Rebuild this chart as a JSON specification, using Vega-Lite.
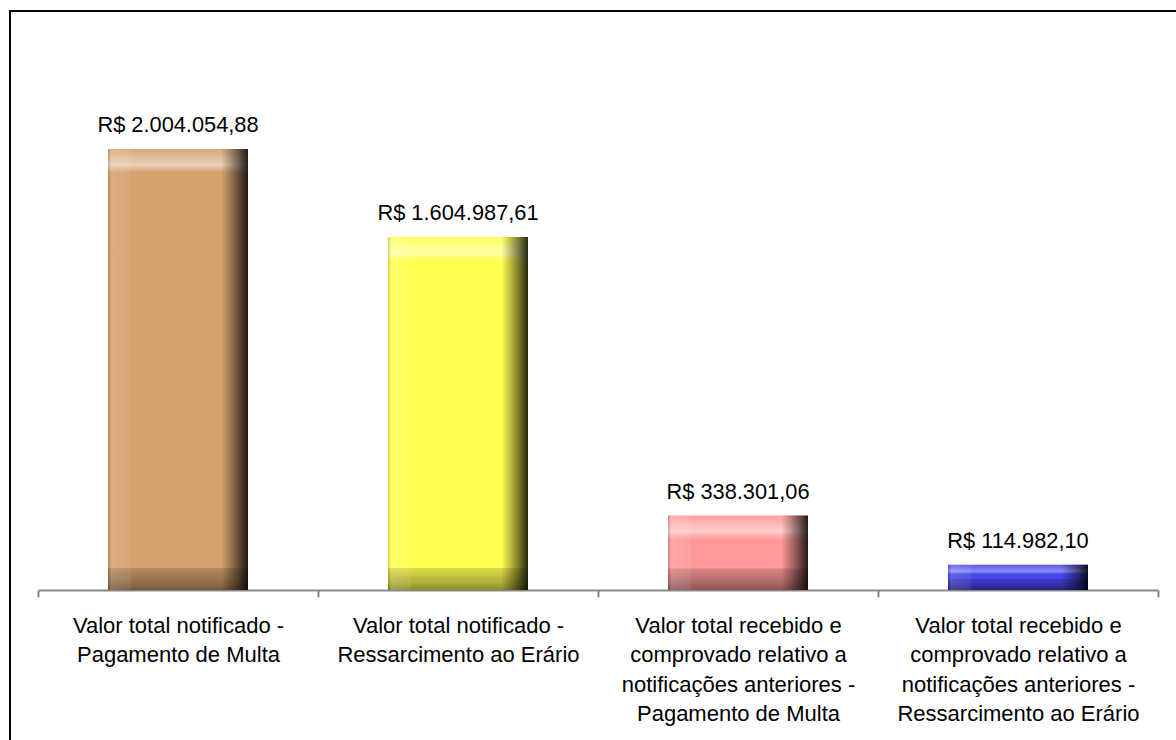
{
  "$schema": "https://vega.github.io/schema/vega-lite/v6.json",
  "width": 1167,
  "height": 730,
  "autosize": {"type": "none"},
  "padding": {"left": 10, "top": 11, "right": -1, "bottom": -1},
  "background": "white",
  "config": {
    "locale": {"number": {"decimal": ",", "thousands": ".", "grouping": [3], "currency": ["R$ ", ""]}},
    "view": {"stroke": "black", "strokeWidth": 2},
    "font": "Liberation Sans"
  },
  "data": {
    "values": [
      {"categoria": "Valor total notificado -\nPagamento de Multa", "valor": 2004054.88},
      {"categoria": "Valor total notificado -\nRessarcimento ao Erário", "valor": 1604987.61},
      {"categoria": "Valor total recebido e\ncomprovado relativo a\nnotificações anteriores -\nPagamento de Multa", "valor": 338301.06},
      {"categoria": "Valor total recebido e\ncomprovado relativo a\nnotificações anteriores -\nRessarcimento ao Erário", "valor": 114982.10}
    ]
  },
  "encoding": {
    "x": {
      "field": "categoria",
      "type": "nominal",
      "sort": null,
      "scale": {"range": [28, 1148], "paddingInner": 0, "paddingOuter": 0},
      "axis": {
        "title": null,
        "orient": "bottom",
        "offset": -151,
        "grid": false,
        "domainColor": "#898989",
        "domainWidth": 2,
        "tickColor": "#898989",
        "tickWidth": 2,
        "tickSize": 7,
        "tickBand": "extent",
        "labelAngle": 0,
        "labelFont": "Liberation Sans",
        "labelFontSize": 22,
        "labelColor": "black",
        "labelLimit": 300,
        "labelOverlap": false,
        "labelBaseline": "top",
        "labelPadding": 18,
        "labelLineHeight": 29.5,
        "labelExpr": "split(datum.label, '\\n')"
      }
    },
    "y": {
      "field": "valor",
      "type": "quantitative",
      "scale": {"domain": [0, 2631800], "range": [579, 0], "nice": false},
      "axis": null
    }
  },
  "layer": [
    {
      "mark": {"type": "bar", "width": {"band": 0.5}},
      "encoding": {
        "color": {
          "field": "categoria",
          "type": "nominal",
          "sort": null,
          "scale": {"range": ["#D4A06C", "#FFFF50", "#FF9999", "#4646EC"]},
          "legend": null
        }
      }
    },
    {
      "transform": [{"filter": "indexof(datum.categoria, 'notificado') >= 0 && indexof(datum.categoria, 'Multa') >= 0"}],
      "mark": {
        "type": "bar",
        "width": {"band": 0.5},
        "fill": {
          "gradient": "linear", "x1": 0, "y1": 0, "x2": 0, "y2": 1,
          "stops": [
            {"offset": 0, "color": "rgba(255,255,255,0.08)"},
            {"offset": 0.036, "color": "rgba(255,255,255,0.5)"},
            {"offset": 0.054, "color": "rgba(255,255,255,0)"},
            {"offset": 0.95, "color": "rgba(0,0,0,0)"},
            {"offset": 0.951, "color": "rgba(0,0,0,0.14)"},
            {"offset": 0.985, "color": "rgba(0,0,0,0.32)"},
            {"offset": 1, "color": "rgba(0,0,0,0.45)"}
          ]
        }
      },
      "encoding": {}
    },
    {
      "transform": [{"filter": "indexof(datum.categoria, 'notificado') >= 0 && indexof(datum.categoria, 'Erário') >= 0"}],
      "mark": {
        "type": "bar",
        "width": {"band": 0.5},
        "fill": {
          "gradient": "linear", "x1": 0, "y1": 0, "x2": 0, "y2": 1,
          "stops": [
            {"offset": 0, "color": "rgba(255,255,255,0.08)"},
            {"offset": 0.045, "color": "rgba(255,255,255,0.5)"},
            {"offset": 0.068, "color": "rgba(255,255,255,0)"},
            {"offset": 0.938, "color": "rgba(0,0,0,0)"},
            {"offset": 0.939, "color": "rgba(0,0,0,0.14)"},
            {"offset": 0.98, "color": "rgba(0,0,0,0.32)"},
            {"offset": 1, "color": "rgba(0,0,0,0.45)"}
          ]
        }
      },
      "encoding": {}
    },
    {
      "transform": [{"filter": "indexof(datum.categoria, 'recebido') >= 0 && indexof(datum.categoria, 'Multa') >= 0"}],
      "mark": {
        "type": "bar",
        "width": {"band": 0.5},
        "fill": {
          "gradient": "linear", "x1": 0, "y1": 0, "x2": 0, "y2": 1,
          "stops": [
            {"offset": 0, "color": "rgba(255,255,255,0.08)"},
            {"offset": 0.21, "color": "rgba(255,255,255,0.5)"},
            {"offset": 0.32, "color": "rgba(255,255,255,0)"},
            {"offset": 0.71, "color": "rgba(0,0,0,0)"},
            {"offset": 0.712, "color": "rgba(0,0,0,0.14)"},
            {"offset": 0.9, "color": "rgba(0,0,0,0.32)"},
            {"offset": 1, "color": "rgba(0,0,0,0.45)"}
          ]
        }
      },
      "encoding": {}
    },
    {
      "transform": [{"filter": "indexof(datum.categoria, 'recebido') >= 0 && indexof(datum.categoria, 'Erário') >= 0"}],
      "mark": {
        "type": "bar",
        "width": {"band": 0.5},
        "fill": {
          "gradient": "linear", "x1": 0, "y1": 0, "x2": 0, "y2": 1,
          "stops": [
            {"offset": 0, "color": "rgba(255,255,255,0.08)"},
            {"offset": 0.26, "color": "rgba(255,255,255,0.4)"},
            {"offset": 0.38, "color": "rgba(255,255,255,0)"},
            {"offset": 0.55, "color": "rgba(0,0,0,0)"},
            {"offset": 0.56, "color": "rgba(0,0,0,0.14)"},
            {"offset": 0.85, "color": "rgba(0,0,0,0.32)"},
            {"offset": 1, "color": "rgba(0,0,0,0.45)"}
          ]
        }
      },
      "encoding": {}
    },
    {
      "mark": {
        "type": "bar",
        "width": {"band": 0.5},
        "fill": {
          "gradient": "linear", "x1": 0, "y1": 0, "x2": 1, "y2": 0,
          "stops": [
            {"offset": 0, "color": "rgba(0,0,0,0.18)"},
            {"offset": 0.025, "color": "rgba(255,255,255,0.14)"},
            {"offset": 0.16, "color": "rgba(255,255,255,0.06)"},
            {"offset": 0.17, "color": "rgba(255,255,255,0)"},
            {"offset": 0.81, "color": "rgba(0,0,0,0)"},
            {"offset": 0.86, "color": "rgba(0,0,0,0.2)"},
            {"offset": 0.93, "color": "rgba(0,0,0,0.5)"},
            {"offset": 1, "color": "rgba(0,0,0,0.85)"}
          ]
        }
      },
      "encoding": {}
    },
    {
      "mark": {
        "type": "text",
        "baseline": "alphabetic",
        "align": "center",
        "dy": -17,
        "font": "Liberation Sans",
        "fontSize": 21.8,
        "color": "black"
      },
      "encoding": {
        "text": {"field": "valor", "type": "quantitative", "format": "$,.2f"}
      }
    }
  ]
}
